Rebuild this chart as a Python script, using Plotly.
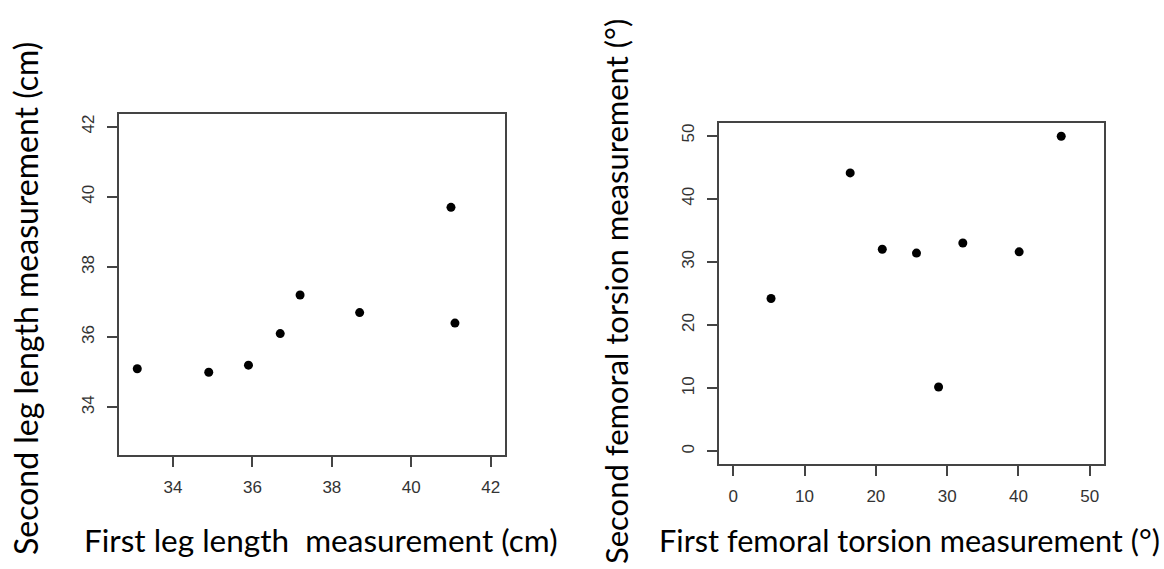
import plotly.graph_objects as go

W, H = 1164, 569

# Data
leg_first = [33.1, 34.9, 35.9, 36.7, 37.2, 38.7, 41.0, 41.1]
leg_second = [35.1, 35.0, 35.2, 36.1, 37.2, 36.7, 39.7, 36.4]
tor_first = [5.3, 16.4, 20.9, 25.7, 28.8, 32.2, 40.1, 46.0]
tor_second = [24.2, 44.1, 32.0, 31.4, 10.2, 33.0, 31.6, 49.9]

leg_ticks = [34, 36, 38, 40, 42]
tor_ticks = [0, 10, 20, 30, 40, 50]

leg_xtitle = "First leg length  measurement (cm)"
leg_ytitle = "Second leg length measurement (cm)"
tor_xtitle = "First femoral torsion measurement (°)"
tor_ytitle = "Second femoral torsion measurement (°)"

fig = go.Figure()
marker = dict(color="black", size=9, line=dict(width=0))
fig.add_trace(go.Scatter(x=leg_first, y=leg_second, mode="markers", marker=marker,
                         xaxis="x", yaxis="y", showlegend=False))
fig.add_trace(go.Scatter(x=tor_first, y=tor_second, mode="markers", marker=marker,
                         xaxis="x2", yaxis="y2", showlegend=False))

axis_common = dict(showline=True, mirror=True, linecolor="#444", linewidth=1.5,
                   ticks="outside", ticklen=10, tickcolor="#444", tickwidth=1.5,
                   showgrid=False, zeroline=False, automargin=False,
                   tickfont=dict(family="Liberation Sans, Arial", size=17, color="#333"))


def px(v):
    return v / W


def py(v):
    return 1 - v / H


fig.update_layout(
    width=W, height=H, margin=dict(l=0, r=0, t=0, b=0),
    paper_bgcolor="white", plot_bgcolor="white",
    xaxis=dict(domain=[px(119), px(505)], range=[32.64, 42.36], tickvals=leg_ticks,
               anchor="y", ticklabelstandoff=6, **axis_common),
    yaxis=dict(domain=[py(455), py(114)], range=[32.64, 42.36], tickvals=leg_ticks,
               anchor="x", tickangle=-90, ticklabelstandoff=6, **axis_common),
    xaxis2=dict(domain=[px(719), px(1104)], range=[-2, 52], tickvals=tor_ticks,
                anchor="y2", ticklabelstandoff=6, **axis_common),
    yaxis2=dict(domain=[py(464), py(123)], range=[-2, 52], tickvals=tor_ticks,
                anchor="x2", tickangle=-90, ticklabelstandoff=6, **axis_common),
)

title_font = dict(family="Lato", color="black")
fig.add_annotation(text=leg_xtitle, x=px(320.5), y=py(540), xref="paper", yref="paper",
                   showarrow=False, xanchor="center", yanchor="middle",
                   font=dict(size=31.5, **title_font))
fig.add_annotation(text=tor_xtitle, x=px(909.5), y=py(540), xref="paper", yref="paper",
                   showarrow=False, xanchor="center", yanchor="middle",
                   font=dict(size=30.7, **title_font))
fig.add_annotation(text=leg_ytitle, x=px(25), y=py(299), xref="paper", yref="paper",
                   showarrow=False, xanchor="center", yanchor="middle", textangle=-90,
                   font=dict(size=32, **title_font))
fig.add_annotation(text=tor_ytitle, x=px(616), y=py(292), xref="paper", yref="paper",
                   showarrow=False, xanchor="center", yanchor="middle", textangle=-90,
                   font=dict(size=31, **title_font))

fig.write_html("out.html")
